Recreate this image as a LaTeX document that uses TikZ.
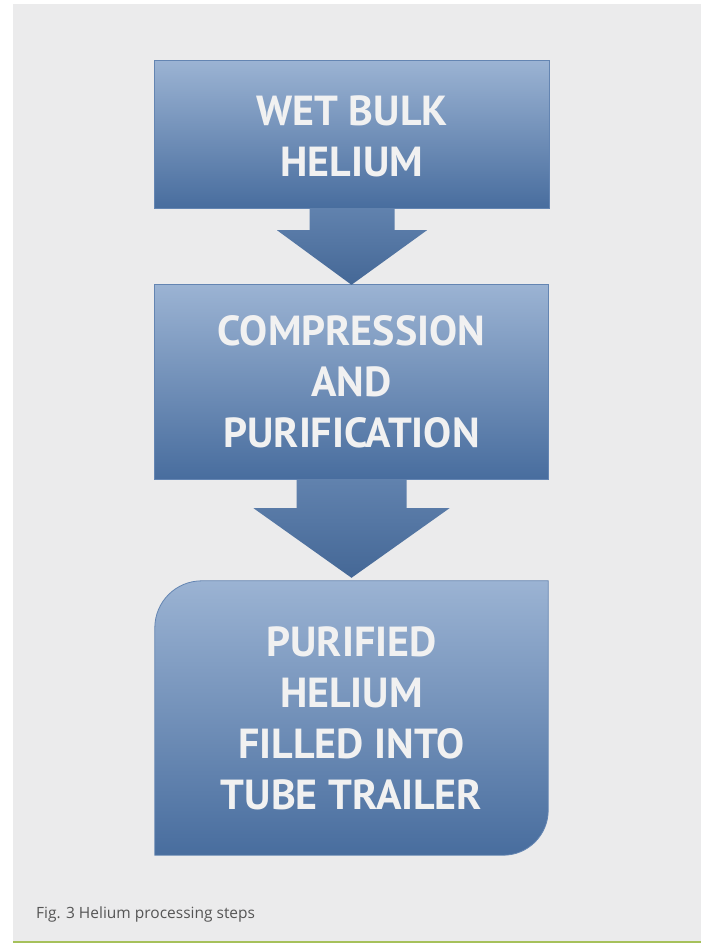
\documentclass[tikz,border=0pt]{standalone}
\usepackage{fontspec}
\setmainfont{PT Sans}
\newfontfamily\capfont{Open Sans}
\definecolor{bgc}{HTML}{EBEBEC}
\definecolor{greenc}{HTML}{A6C15B}
\definecolor{topc}{HTML}{9BB3D3}
\definecolor{botc}{HTML}{486D9E}
\definecolor{edgec}{HTML}{6485B2}
\definecolor{txtc}{HTML}{F1F1F1}
\definecolor{capc}{HTML}{555555}
\tikzset{
  boxtext/.style={align=center, text=txtc, font=\fontsize{42}{51}\selectfont\bfseries, inner sep=0pt},
  boxshape/.style={draw=edgec, line width=0.8pt, top color=topc, bottom color=botc},
  flowarrow/.style={top color=botc!70!topc, bottom color=botc!95!black, draw=none},
}
\begin{document}
\begin{tikzpicture}[x=1pt,y=-1pt]
\useasboundingbox (0,0) rectangle (701,943);
\fill[bgc] (13,4) rectangle (701,941);
\fill[greenc] (13,941) rectangle (701,943);
% box 1
\node[boxtext, minimum width=394pt, minimum height=147pt] (b1) at (352,134.5) {};
\path[boxshape] (b1.north west) rectangle (b1.south east);
\node[boxtext] (t1) at ([yshift=-2pt]b1.center) {WET BULK\\HELIUM};
% box 2
\node[boxtext, minimum width=393pt, minimum height=194pt] (b2) at (351.5,382) {};
\path[boxshape] (b2.north west) rectangle (b2.south east);
\node[boxtext] (t2) at (b2.center) {COMPRESSION\\AND\\PURIFICATION};
% box 3
\node[boxtext, minimum width=393pt, minimum height=274pt] (b3) at (351.5,718) {};
\path[boxshape] (b3.north west) ++(0,47) arc[start angle=180, end angle=90, radius=47pt]
  -- (b3.north east) -- ([yshift=45pt]b3.south east) arc[start angle=0, end angle=-90, radius=45pt]
  -- (b3.south west) -- cycle;
\node[boxtext] (t3) at (b3.center) {PURIFIED\\HELIUM\\FILLED INTO\\TUBE TRAILER};
% arrow 1
\path[flowarrow] ([xshift=-42.5pt]b1.south) -- ++(0,22) -- ++(-32.5,0) -- (b2.north)
  -- ([xshift=75pt,yshift=-22pt]b1.south) -- ++(-32.5,0) -- ([xshift=42.5pt]b1.south) -- cycle;
% arrow 2
\path[flowarrow] ([xshift=-55pt]b2.south) -- ++(0,29) -- ++(-43,0) -- ([yshift=3pt]b3.north)
  -- ([xshift=98pt,yshift=-29pt]b2.south) -- ++(-43,0) -- ([xshift=55pt]b2.south) -- cycle;
% caption
\node[anchor=base west, inner sep=0pt, text=capc, font=\capfont\fontsize{15.5}{18}\selectfont] (cap) at (36,918) {Fig. 3 Helium processing steps};
\end{tikzpicture}
\end{document}
